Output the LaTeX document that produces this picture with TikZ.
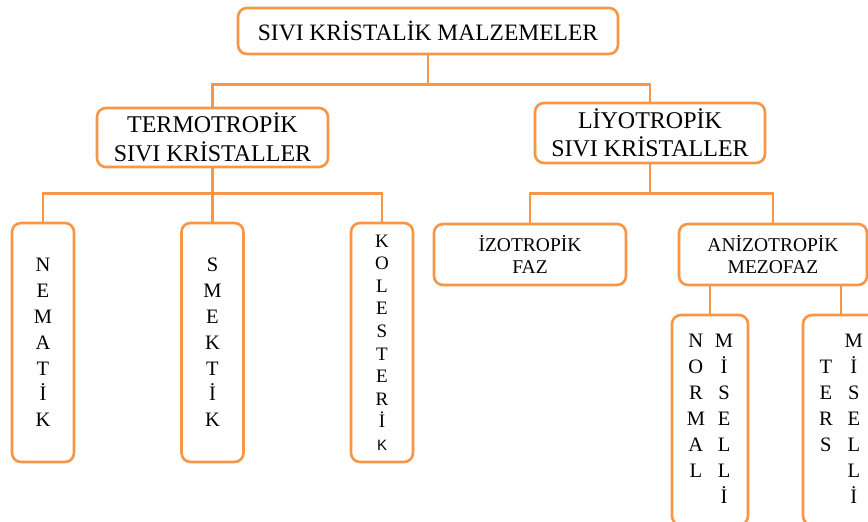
\documentclass[tikz,border=0pt]{standalone}
\usepackage{fontspec}
\setmainfont{Liberation Serif}
\newfontfamily\kfont{Liberation Sans}
\definecolor{boxorange}{RGB}{247,150,70}
\begin{document}
\begin{tikzpicture}[x=1pt, y=-1pt, line width=2.6pt,
    main box/.style={draw=boxorange, rounded corners=9pt, align=center, inner sep=0pt, fill=white},
    tall box/.style={main box, minimum width=62pt, minimum height=239pt},
    link/.style={draw=boxorange, sharp corners}]

                \useasboundingbox (0,0) rectangle (868,522);
                \clip (0,0) rectangle (868,522);

                \node[main box, minimum width=380pt, minimum height=46pt, font=\fontsize{23.5}{27}\selectfont] at (428, 31) (malz) {SIVI KRİSTALİK MALZEMELER};
                \node[main box, minimum width=231pt, minimum height=59pt, font=\fontsize{24}{28.5}\selectfont] at (212.5, 137.5) (termo) {TERMOTROPİK\\SIVI KRİSTALLER};
                \node[main box, minimum width=230pt, minimum height=60pt, font=\fontsize{24}{28.5}\selectfont] at (650, 133) (liyo) {LİYOTROPİK\\SIVI KRİSTALLER};

                \node[tall box, font=\fontsize{20.5}{25.8}\selectfont] at (43, 342.5) (nematik) {N\\E\\M\\A\\T\\İ\\K};
                \node[tall box, font=\fontsize{20.5}{25.8}\selectfont] at (212.5, 342.5) (smektik) {S\\M\\E\\K\\T\\İ\\K};
                \node[tall box, font=\fontsize{19}{22.6}\selectfont] at (382, 342.5) (kolest) {K\\O\\L\\E\\S\\T\\E\\R\\İ\\{\kfont\fontsize{15}{22.6}\selectfont K}};

                \node[main box, minimum width=192pt, minimum height=61pt, font=\fontsize{19.5}{22}\selectfont] at (530, 254.5) (izo) {İZOTROPİK\\FAZ};
                \node[main box, minimum width=188pt, minimum height=61pt, font=\fontsize{19.5}{22}\selectfont] at (773, 254.5) (anizo) {ANİZOTROPİK\\MEZOFAZ};

                \node[main box, minimum width=76pt, minimum height=210pt, font=\fontsize{20.5}{26}\selectfont] at (710, 420) (normal) {\begin{tabular}{@{}c@{\hspace{10pt}}c@{}}N&M\\O&İ\\R&S\\M&E\\A&L\\L&L\\&İ\end{tabular}};
                \node[main box, minimum width=76pt, minimum height=210pt, font=\fontsize{20.5}{26}\selectfont] at (841, 420) (ters) {\begin{tabular}{@{}c@{\hspace{12pt}}c@{}}&M\\T&İ\\E&S\\R&E\\S&L\\&L\\&İ\end{tabular}};

                \draw[link] (malz.south) -- ++(0, 29) -| (termo.north);
                \draw[link] (malz.south) -- ++(0, 29) -| (liyo.north);
                \foreach \c in {nematik, smektik, kolest}
                    \draw[link] (termo.south) -- ++(0, 25) -| (\c.north);
                \foreach \c in {izo, anizo}
                    \draw[link] (liyo.south) -- ++(0, 29) -| (\c.north);
                \foreach \c in {normal, ters}
                    \draw[link] (\c.north |- anizo.south) -- (\c.north);
            \end{tikzpicture}
\end{document}
